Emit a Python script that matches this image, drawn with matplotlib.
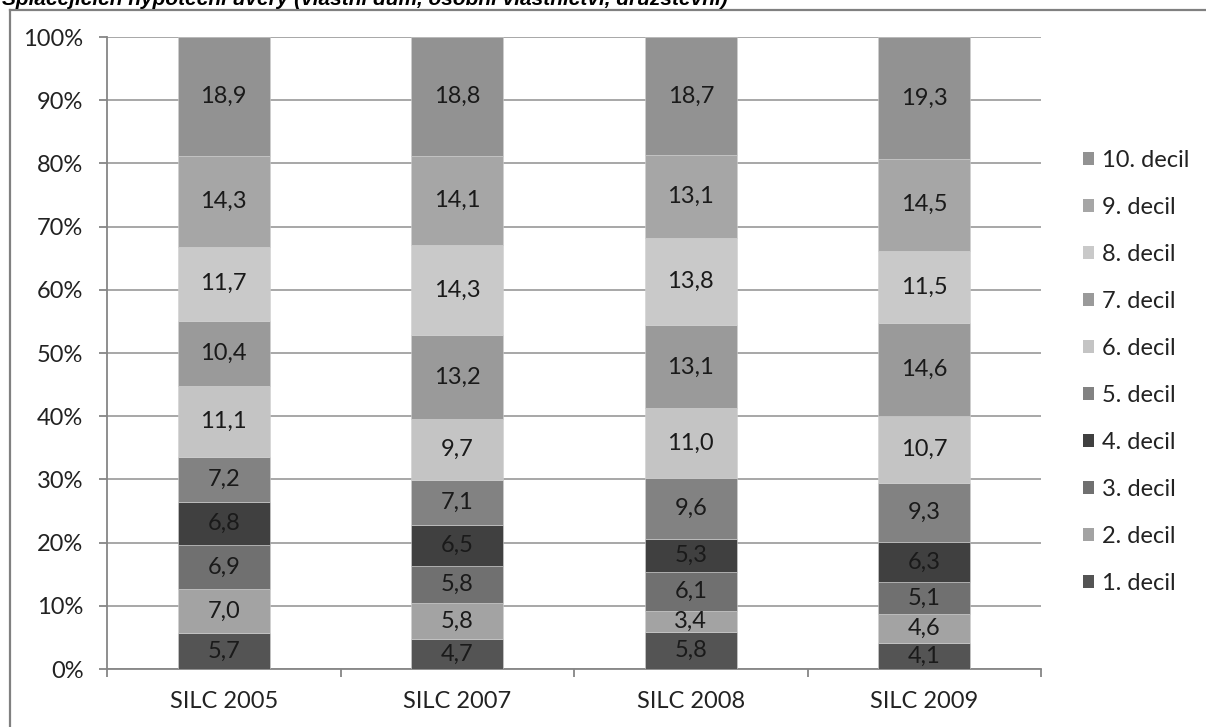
import matplotlib.pyplot as plt
from matplotlib.lines import Line2D
from matplotlib.patches import Patch
import numpy as np

plt.rcParams['font.family'] = ['Lato', 'DejaVu Sans']

years = ['SILC 2005', 'SILC 2007', 'SILC 2008', 'SILC 2009']
deciles = ['1. decil', '2. decil', '3. decil', '4. decil', '5. decil',
           '6. decil', '7. decil', '8. decil', '9. decil', '10. decil']

# shares (%) per decile, one list per decile, values for 2005, 2007, 2008, 2009
d1 = [5.7, 4.7, 5.8, 4.1]
d2 = [7.0, 5.8, 3.4, 4.6]
d3 = [6.9, 5.8, 6.1, 5.1]
d4 = [6.8, 6.5, 5.3, 6.3]
d5 = [7.2, 7.1, 9.6, 9.3]
d6 = [11.1, 9.7, 11.0, 10.7]
d7 = [10.4, 13.2, 13.1, 14.6]
d8 = [11.7, 14.3, 13.8, 11.5]
d9 = [14.3, 14.1, 13.1, 14.5]
d10 = [18.9, 18.8, 18.7, 19.3]

colors = ['#545454', '#a3a3a3', '#707070', '#404040', '#828282',
          '#c4c4c4', '#9a9a9a', '#c9c9c9', '#a6a6a6', '#929292']

vals = np.array([d1, d2, d3, d4, d5, d6, d7, d8, d9, d10])
shares = vals / vals.sum(axis=0)  # 100% stacked like Excel

fig = plt.figure(figsize=(12.06, 7.27), dpi=100)
ax = fig.add_axes([107/1206, 1 - 669/727, (1041 - 107)/1206, (669 - 37)/727])

x = np.arange(len(years))
bottom = np.zeros(len(years))
handles = []
for k in range(len(deciles)):
    bars = ax.bar(x, shares[k], 0.394, bottom=bottom, color=colors[k],
                  edgecolor='#d0d0d0', linewidth=0.4, zorder=3)
    ax.bar_label(bars, labels=[('%.1f' % v).replace('.', ',') for v in vals[k]],
                 label_type='center', fontsize=17, color='#1a1a1a', zorder=4)
    bottom += shares[k]
    handles.append(Patch(facecolor=colors[k], edgecolor='none'))

ax.set_xlim(-0.5, len(years) - 0.5)
ax.set_ylim(0, 1)
ax.set_yticks(np.arange(0, 1.01, 0.1))
ax.set_yticklabels(['%d%%' % round(t * 100) for t in np.arange(0, 1.01, 0.1)])
ax.set_xticks(x)
ax.set_xticklabels(years)
ax.set_xticks(np.arange(-0.5, len(years), 1), minor=True)

ax.grid(axis='y', color='#a0a0a0', linewidth=1.3, zorder=0)
for s in ['top', 'right']:
    ax.spines[s].set_visible(False)
for s in ['left', 'bottom']:
    ax.spines[s].set_color('#868686')
    ax.spines[s].set_linewidth(1.3)
ax.tick_params(axis='y', length=6, width=1.3, color='#868686', pad=11,
               labelsize=17, labelcolor='#222222')
ax.tick_params(axis='x', which='major', length=0, pad=16,
               labelsize=17, labelcolor='#222222')
ax.tick_params(axis='x', which='minor', length=6, width=1.3, color='#868686')

leg = fig.legend(handles[::-1], deciles[::-1], loc='center left',
                 bbox_to_anchor=(1062/1206, 1 - 372/727), frameon=False,
                 fontsize=17, handlelength=0.45, handleheight=0.45,
                 handletextpad=0.35, labelspacing=1.1, labelcolor='#222222')

# outer frame of the chart (only top and left visible in the crop)
fig.add_artist(Line2D([9.5/1206, 9.5/1206], [0, 1 - 10/727],
                      transform=fig.transFigure, color='#808080', lw=1.6))
fig.add_artist(Line2D([9.5/1206, 1], [1 - 10/727, 1 - 10/727],
                      transform=fig.transFigure, color='#808080', lw=1.6))

# title line above the chart, clipped at the top edge as in the source
fig.text(2/1206, 1 - 5/727,
         'Splácejících hypoteční úvěry (vlastní dům, osobní vlastnictví, družstevní)',
         family=['Liberation Sans', 'DejaVu Sans'], fontsize=15,
         fontweight='bold', fontstyle='italic', va='baseline', ha='left')

fig.savefig('out.png', dpi=100)
